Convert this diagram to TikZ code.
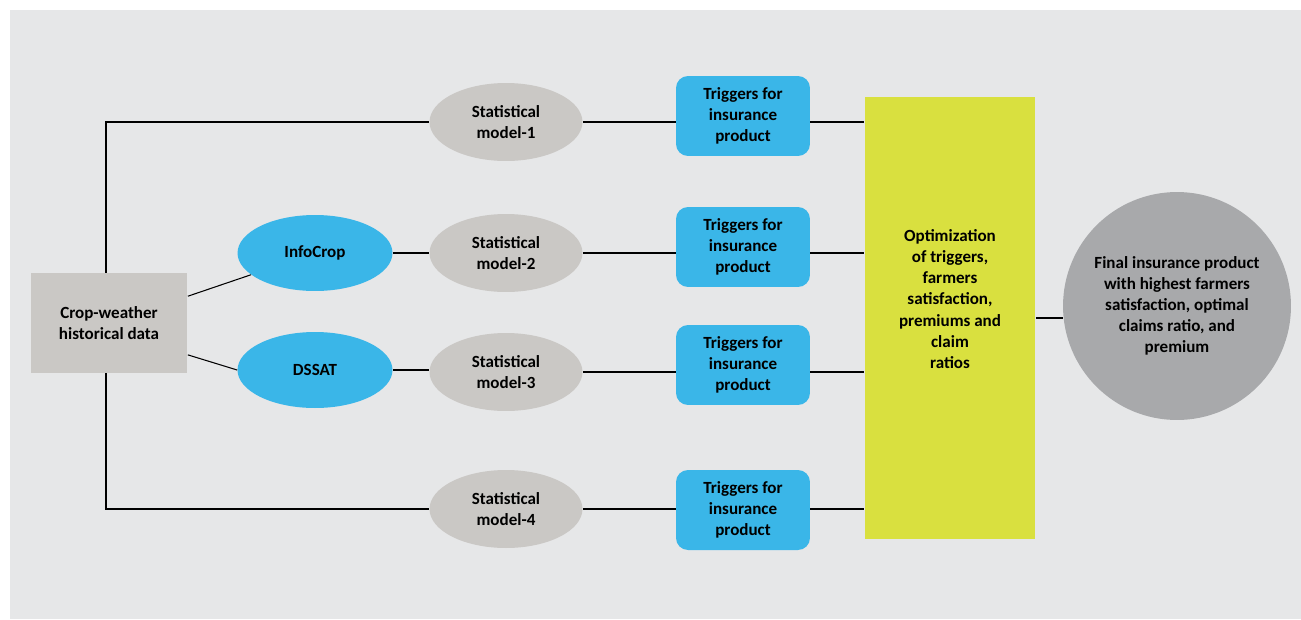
\documentclass[tikz,border=0pt]{standalone}
\usepackage{fontspec}
\setmainfont{Carlito}
\usetikzlibrary{shapes.geometric}

\definecolor{bgrey}{HTML}{E6E7E8}
\definecolor{boxgrey}{HTML}{CAC8C5}
\definecolor{skyblue}{HTML}{3AB6E8}
\definecolor{lime}{HTML}{D9E03F}
\definecolor{dgrey}{HTML}{A8A9AB}

\tikzset{
  every node/.style={font=\fontsize{9.7}{12}\selectfont\bfseries, align=center},
  databox/.style={rectangle, fill=boxgrey, minimum width=3.14cm, minimum height=2cm},
  modelell/.style={ellipse, fill=skyblue, minimum width=3.1cm, minimum height=1.52cm, inner sep=0pt},
  statell/.style={ellipse, fill=boxgrey, minimum width=3.06cm, minimum height=1.56cm, inner sep=0pt},
  trigbox/.style={rectangle, rounded corners=0.24cm, fill=skyblue, minimum width=2.68cm, minimum height=1.6cm, inner sep=0pt},
  optbox/.style={rectangle, fill=lime, minimum width=3.42cm, minimum height=8.86cm},
  finalcirc/.style={circle, fill=dgrey, minimum size=4.56cm, inner sep=0pt},
  link/.style={draw=black, line width=0.6pt}
}

\begin{document}
\begin{tikzpicture}[x=0.02cm, y=-0.02cm]
  \fill[white] (0,0) rectangle (1301,619);
  \fill[bgrey] (10,10) rectangle (1301,619);
  \useasboundingbox (0,0) rectangle (1301,619);

  % input data and crop models
  \node[databox] (cw) at (109,323) {Crop-weather\\historical data};
  \node[modelell] (ic) at (315,253) {InfoCrop};
  \node[modelell] (ds) at (315,370) {DSSAT};

  % statistical models
  \node[statell] (sm1) at (506,122) {Statistical\\model-1};
  \node[statell] (sm2) at (506,253) {Statistical\\model-2};
  \node[statell] (sm3) at (506,372) {Statistical\\model-3};
  \node[statell] (sm4) at (506,509) {Statistical\\model-4};

  % triggers
  \node[trigbox] (tr1) at (743,116) {Triggers for\\insurance\\product};
  \node[trigbox] (tr2) at (743,247) {Triggers for\\insurance\\product};
  \node[trigbox] (tr3) at (743,365) {Triggers for\\insurance\\product};
  \node[trigbox] (tr4) at (743,510) {Triggers for\\insurance\\product};

  % optimization and final product
  \node[optbox] (opt) at (950,318) {};
  \node (optlbl) at (950,299) {Optimization\\of triggers,\\farmers\\satisfaction,\\premiums and\\claim\\ratios};
  \node[finalcirc] (fin) at (1177,306) {Final insurance product\\with highest farmers\\satisfaction, optimal\\claims ratio, and\\premium};

  \begin{scope}[link]
    \draw ([xshift=-0.06cm]cw.north) |- (sm1);
    \draw ([xshift=-0.06cm]cw.south) |- (sm4);
    \draw (cw) -- (ic);
    \draw (cw.-22) -- (ds.west);
    \draw (ic) -- (sm2);
    \draw (ds) -- (ds -| sm3.west);
    \draw (sm1.east) -- (sm1.east -| tr1.west);
    \draw (sm2) -- (sm2 -| tr2.west);
    \draw (sm3) -- (sm3 -| tr3.west);
    \draw (sm4) -- (sm4 -| tr4.west);
    \draw (sm1 -| tr1.east) -- (sm1 -| opt.west);
    \draw (sm2 -| tr2.east) -- (sm2 -| opt.west);
    \draw (sm3 -| tr3.east) -- (sm3 -| opt.west);
    \draw (sm4 -| tr4.east) -- (sm4 -| opt.west);
    \draw (opt.east) -- (opt.east -| fin.west);
  \end{scope}
\end{tikzpicture}
\end{document}
